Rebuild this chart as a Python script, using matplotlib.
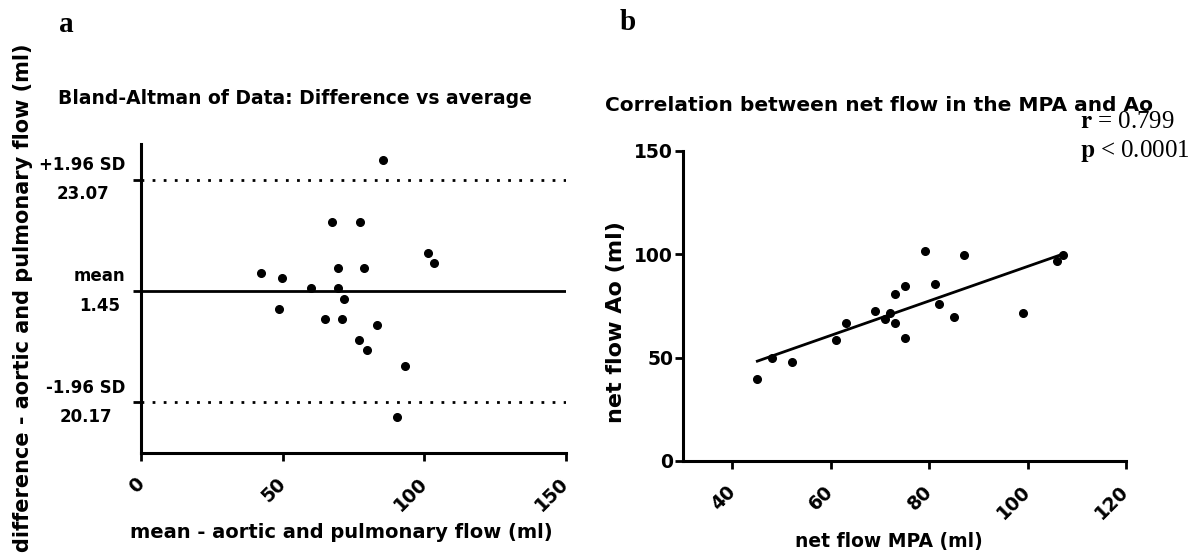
import numpy as np
import matplotlib
matplotlib.use('Agg')
import matplotlib.pyplot as plt

# panel a: Bland-Altman, mean vs difference of aortic and pulmonary flow
ba_mean = [85.3, 67.3, 77.2, 101.3, 103.3, 42.5, 49.8, 69.7, 78.8, 59.9,
           69.7, 71.8, 48.8, 64.9, 71.0, 83.4, 76.8, 79.9, 93.3, 90.4]
ba_diff = [26.9, 14.9, 14.9, 8.9, 6.9, 4.9, 3.9, 6.0, 6.0, 2.0,
           2.0, -0.1, -2.1, -4.0, -4.0, -5.1, -8.0, -10.0, -13.1, -23.1]
mean_bias = 1.45
upper_loa = 23.07
lower_loa = -20.17
loa_labels = ['+1.96 SD\n23.07', 'mean\n1.45', '-1.96 SD\n20.17']

# panel b: net flow MPA vs net flow Ao
mpa_flow = [45.1, 48.1, 52.1, 61.0, 63.1, 69.0, 71.1, 72.1, 73.1, 73.1,
            75.1, 75.1, 79.1, 81.1, 82.1, 85.1, 87.0, 99.0, 105.9, 107.1]
ao_flow = [39.8, 49.7, 47.8, 58.7, 66.8, 72.7, 68.7, 71.8, 80.8, 66.8,
           84.7, 59.7, 101.7, 85.8, 75.8, 69.7, 99.8, 71.8, 96.7, 99.8]

plt.rcParams['font.family'] = ['DejaVu Sans']
plt.rcParams['mathtext.fontset'] = 'stix'

W, H = 1197, 553
fig = plt.figure(figsize=(W / 100, H / 100), dpi=100)


def px_axes(left, top, right, bottom):
    return fig.add_axes([left / W, 1 - bottom / H, (right - left) / W, (bottom - top) / H])


def ftext(x, y, s, **kw):
    # place text using pixel coordinates from the top-left corner
    return fig.text(x / W, 1 - y / H, s, **kw)


def style_axes(ax, ysize):
    for s in ['top', 'right']:
        ax.spines[s].set_visible(False)
    for s in ['left', 'bottom']:
        ax.spines[s].set_linewidth(2.2)
    ax.tick_params(width=2, length=6)
    ax.tick_params(axis='y', pad=1, labelsize=ysize)
    ax.tick_params(axis='x', pad=14, labelsize=13.5)
    for lab in ax.get_xticklabels() + ax.get_yticklabels():
        lab.set_fontweight('bold')
    for lab in ax.get_xticklabels():
        lab.set_rotation(45)
        lab.set_ha('right')
        lab.set_va('center')
        lab.set_rotation_mode('anchor')


# ---- panel a ----
ax1 = px_axes(141, 144, 566, 453)
ax1.set_xlim(0, 150)
ax1.set_ylim(-30, 30)
ax1.axhline(mean_bias, color='black', lw=2)
ax1.axhline(upper_loa, color='black', lw=2, linestyle=(0, (1, 3)))
ax1.axhline(lower_loa, color='black', lw=2, linestyle=(0, (1, 3)))
ax1.plot(ba_mean, ba_diff, 'o', color='black', markersize=5.5)
ax1.set_xticks([0, 50, 100, 150])
ax1.set_yticks([upper_loa, mean_bias, lower_loa])
ax1.set_yticklabels(loa_labels, multialignment='center', linespacing=1.8, va='center')
style_axes(ax1, 12)
ax1.tick_params(axis='y', pad=5)
ftext(341, 533, 'mean - aortic and pulmonary flow (ml)', fontsize=14, fontweight='bold',
      ha='center', va='center')
ftext(23, 298, 'difference - aortic and pulmonary flow (ml)', rotation=90,
      fontsize=15, fontweight='bold', ha='center', va='center')
ftext(58, 99, 'Bland-Altman of Data: Difference vs average',
      fontsize=13.5, fontweight='bold', ha='left', va='center')
ftext(59, 25, 'a', fontsize=21, fontweight='bold', family='Liberation Serif',
      ha='left', va='center')

# ---- panel b ----
ax2 = px_axes(683, 151, 1126, 461)
ax2.set_xlim(30, 120)
ax2.set_ylim(0, 150)
ax2.plot(mpa_flow, ao_flow, 'o', color='black', markersize=5.5)
slope, intercept = np.polyfit(mpa_flow, ao_flow, 1)
xl = np.array([min(mpa_flow), max(mpa_flow)])
ax2.plot(xl, slope * xl + intercept, color='black', lw=2)
ax2.set_xticks([40, 60, 80, 100, 120])
ax2.set_yticks([0, 50, 100, 150])
style_axes(ax2, 13.5)
ftext(889, 541, 'net flow MPA (ml)', fontsize=13.5, fontweight='bold',
      ha='center', va='center')
ftext(616, 322, 'net flow Ao (ml)', rotation=90, fontsize=16, fontweight='bold',
      ha='center', va='center')
ftext(605, 106, 'Correlation between net flow in the MPA and Ao',
      fontsize=14.5, fontweight='bold', ha='left', va='center')
ftext(620, 23, 'b', fontsize=21, fontweight='bold', family='Liberation Serif',
      ha='left', va='center')
ftext(1080, 122, r'$\mathbf{r}$ = 0.799', fontsize=18, family='Liberation Serif',
      ha='left', va='center')
ftext(1080, 151, r'$\mathbf{p}$ < 0.0001', fontsize=18, family='Liberation Serif',
      ha='left', va='center')

fig.savefig('out.png', dpi=100)
